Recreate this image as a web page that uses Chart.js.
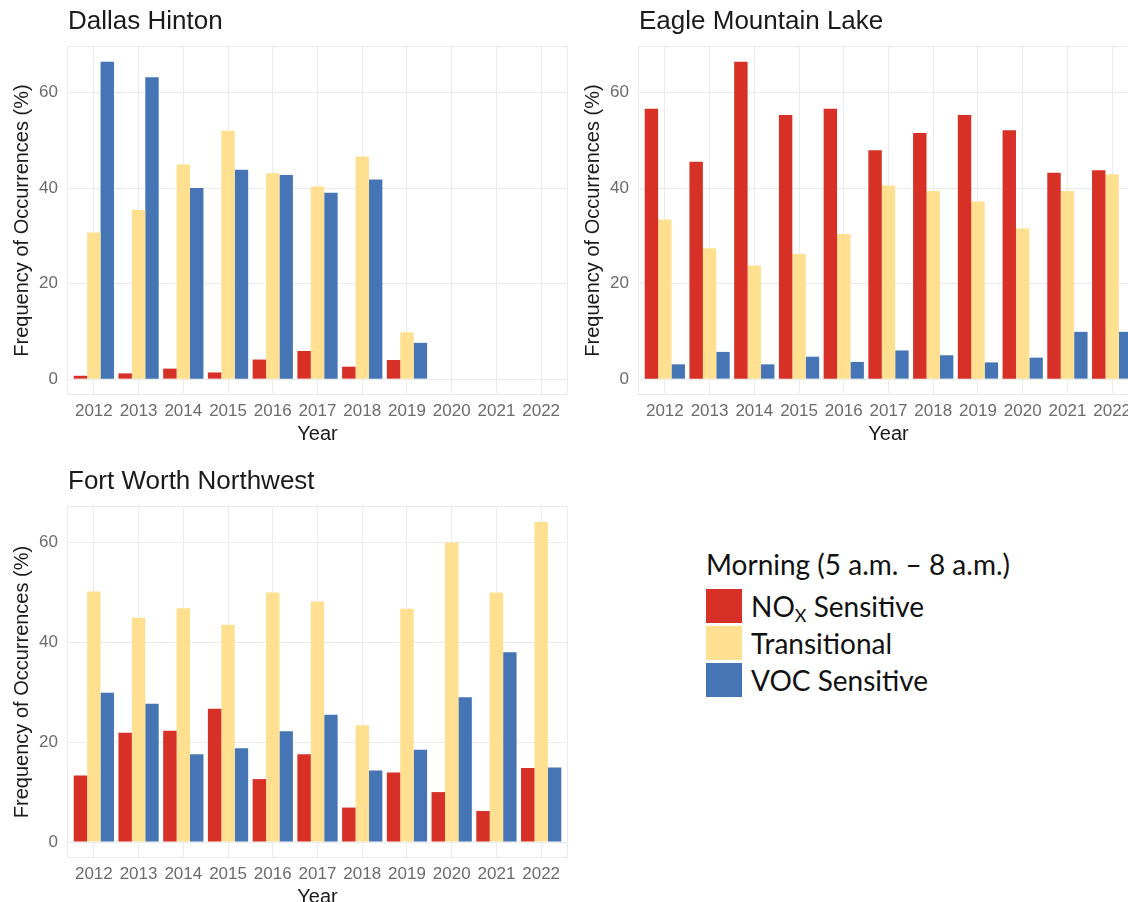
<!DOCTYPE html>
<html>
<head>
<meta charset="utf-8">
<script src="https://cdn.jsdelivr.net/npm/chart.js@4.4.1/dist/chart.umd.min.js"></script>
<style>
  html, body { margin: 0; padding: 0; background: #fff; }
  body { width: 1128px; height: 902px; overflow: hidden; position: relative; }
  canvas { position: absolute; }
  #legend { position: absolute; left: 706px; top: 545px; font-family: Lato, "Noto Sans", sans-serif; color: #111; }
  #legend .ttl { font-size: 28px; line-height: 38px; margin-bottom: 4px; }
  #legend .row { display: flex; align-items: center; height: 37px; }
  #legend .sw { width: 36px; height: 34px; margin-right: 9px; }
  #legend .lbl { font-size: 28px; }
  #legend sub { font-size: 18px; vertical-align: -5px; line-height: 0; }
</style>
</head>
<body>
<canvas id="dallas" width="568" height="450" style="left:0;top:0"></canvas>
<canvas id="eagle" width="568" height="450" style="left:571px;top:0"></canvas>
<canvas id="fortworth" width="568" height="453" style="left:0;top:460px"></canvas>
<div id="legend"></div>

<script>
const years = ['2012', '2013', '2014', '2015', '2016', '2017', '2018', '2019', '2020', '2021', '2022'];
const yTicks = [0, 20, 40, 60];

const seriesNames = ['NOx Sensitive', 'Transitional', 'VOC Sensitive'];
const seriesColors = ['#d73027', '#fee090', '#4575b4'];

// Dallas Hinton (no data after 2019)
const dallasNox   = [0.7, 1.2, 2.2, 1.4, 4.1, 5.9, 2.6, 4.0, null, null, null];
const dallasTrans = [30.7, 35.4, 44.9, 52.0, 43.1, 40.3, 46.6, 9.8, null, null, null];
const dallasVoc   = [66.4, 63.2, 40.0, 43.8, 42.7, 39.0, 41.8, 7.6, null, null, null];

// Eagle Mountain Lake
const eagleNox   = [56.6, 45.5, 66.4, 55.3, 56.6, 47.9, 51.5, 55.3, 52.1, 43.2, 43.7];
const eagleTrans = [33.4, 27.4, 23.8, 26.2, 30.4, 40.5, 39.4, 37.2, 31.5, 39.4, 42.9];
const eagleVoc   = [3.1, 5.7, 3.1, 4.7, 3.6, 6.0, 5.0, 3.5, 4.5, 9.9, 9.9];

// Fort Worth Northwest
const fwNox   = [13.3, 21.9, 22.3, 26.7, 12.6, 17.6, 6.9, 13.9, 10.0, 6.2, 14.8];
const fwTrans = [50.2, 44.9, 46.8, 43.5, 50.0, 48.2, 23.4, 46.7, 60.0, 50.0, 64.1];
const fwVoc   = [29.9, 27.7, 17.6, 18.8, 22.2, 25.5, 14.3, 18.5, 29.0, 38.0, 14.9];

const FONT = '"Liberation Sans", Arial, sans-serif';
const tickColor = '#6b6b6b';
const gridColor = '#ebebeb';

// title at the left edge of the panel, plus a thin panel border
const panelDecor = {
  id: 'panelDecor',
  beforeDatasetsDraw(chart) {
    const { ctx, chartArea: a } = chart;
    ctx.save();
    ctx.strokeStyle = gridColor;
    ctx.lineWidth = 1;
    ctx.strokeRect(a.left + 0.5, a.top + 0.5, a.right - a.left - 1, a.bottom - a.top - 1);
    ctx.restore();
  },
  afterDraw(chart, args, opts) {
    const ctx = chart.ctx;
    ctx.save();
    ctx.font = '26px ' + FONT;
    ctx.fillStyle = '#1a1a1a';
    ctx.textBaseline = 'middle';
    ctx.fillText(opts.text, chart.chartArea.left + 1, 22);
    ctx.restore();
  }
};

function makePanel(id, title, nox, trans, voc) {
  const all = [nox, trans, voc];
  const top = Math.max(...all.flat().filter(v => v !== null));
  const pad = top * 0.05;

  return new Chart(document.getElementById(id), {
    type: 'bar',
    data: {
      datasets: all.map((vals, k) => ({
        label: seriesNames[k],
        data: vals.map((v, i) => ({ x: i, y: v })),
        backgroundColor: seriesColors[k],
        borderWidth: 0,
        categoryPercentage: 0.9,
        barPercentage: 1.0
      }))
    },
    options: {
      responsive: false,
      animation: false,
      layout: { padding: { top: 46, left: 0, right: 0, bottom: 0 } },
      plugins: {
        legend: { display: false },
        tooltip: { enabled: false },
        panelDecor: { text: title }
      },
      scales: {
        x: {
          type: 'linear',
          offset: false,
          min: -0.6,
          max: years.length - 0.4,
          afterBuildTicks: s => { s.ticks = years.map((y, i) => ({ value: i })); },
          afterFit: s => { s.height = 55; },
          grid: { color: gridColor, drawTicks: false, offset: false },
          border: { display: false },
          ticks: {
            autoSkip: false,
            maxRotation: 0,
            padding: 6,
            color: tickColor,
            font: { family: FONT, size: 17 },
            callback: v => years[v]
          },
          title: {
            display: true,
            text: 'Year',
            color: '#1a1a1a',
            font: { family: FONT, size: 20 },
            padding: { top: 0, bottom: 4 }
          }
        },
        y: {
          min: -pad,
          max: top + pad,
          afterBuildTicks: s => { s.ticks = yTicks.map(v => ({ value: v })); },
          afterFit: s => { s.width = 67; },
          grid: { color: gridColor, drawTicks: false },
          border: { display: false },
          ticks: {
            padding: 9,
            color: tickColor,
            font: { family: FONT, size: 17 }
          },
          title: {
            display: true,
            text: 'Frequency of Occurrences (%)',
            color: '#1a1a1a',
            font: { family: FONT, size: 20 },
            padding: { top: 10, bottom: 0 }
          }
        }
      }
    },
    plugins: [panelDecor]
  });
}

makePanel('dallas', 'Dallas Hinton', dallasNox, dallasTrans, dallasVoc);
makePanel('eagle', 'Eagle Mountain Lake', eagleNox, eagleTrans, eagleVoc);
makePanel('fortworth', 'Fort Worth Northwest', fwNox, fwTrans, fwVoc);

// shared legend
const legend = document.getElementById('legend');
legend.innerHTML = '<div class="ttl">Morning (5 a.m. \u2013 8 a.m.)</div>' +
  seriesNames.map((name, k) => {
    const label = name.replace('NOx', 'NO<sub>X</sub>');
    return '<div class="row"><div class="sw" style="background:' + seriesColors[k] + '"></div>' +
      '<span class="lbl">' + label + '</span></div>';
  }).join('');
</script>
</body>
</html>
